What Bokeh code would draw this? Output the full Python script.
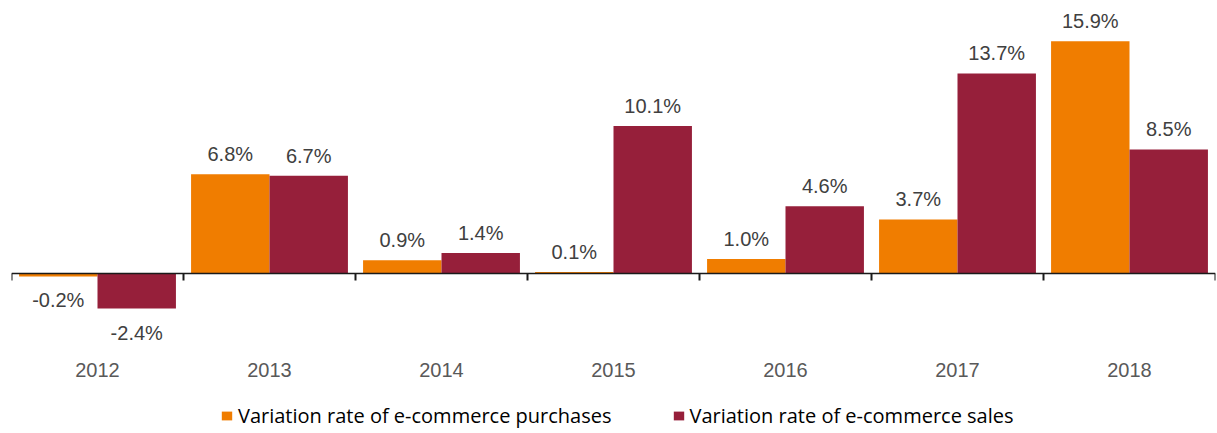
import numpy as np
from bokeh.plotting import figure
from bokeh.models import (ColumnDataSource, FixedTicker, LinearAxis, Legend,
                          LegendItem, Range1d)
from bokeh.embed import file_html
from bokeh.resources import INLINE
from bokeh.core.properties import value

years = ["2012", "2013", "2014", "2015", "2016", "2017", "2018"]
purchases = [-0.2, 6.8, 0.9, 0.1, 1.0, 3.7, 15.9]
sales = [-2.4, 6.7, 1.4, 10.1, 4.6, 13.7, 8.5]
series_names = ["Variation rate of e-commerce purchases",
                "Variation rate of e-commerce sales"]
colors = ["#F07D00", "#961F3A"]

FONT = "Liberation Sans"
LEGEND_FONT = "Open Sans"
n = len(years)
centers = np.arange(n) + 0.5
bounds = np.arange(n + 1)
bar_w = 0.456
offsets = [-bar_w / 2, bar_w / 2]

p = figure(width=1216, height=433, x_range=Range1d(0, n),
           y_range=Range1d(-10.96, 18.15), x_axis_type=None, y_axis_type=None,
           output_backend="svg", toolbar_location=None,
           min_border_left=11, min_border_right=1, min_border_top=8,
           min_border_bottom=0)
p.outline_line_color = None

renderers = []
for vals, off, col in zip([purchases, sales], offsets, colors):
    xs = centers + off
    src = ColumnDataSource(dict(x=xs, top=vals))
    r = p.vbar(x="x", top="top", bottom=0, width=bar_w, source=src,
               fill_color=col, line_color=None)
    renderers.append(r)
    labels = ["%.1f%%" % v for v in vals]
    pos = [i for i, v in enumerate(vals) if v >= 0]
    neg = [i for i, v in enumerate(vals) if v < 0]
    sp = ColumnDataSource(dict(x=[xs[i] for i in pos], y=[vals[i] for i in pos],
                               t=[labels[i] for i in pos]))
    sn = ColumnDataSource(dict(x=[xs[i] for i in neg], y=[vals[i] for i in neg],
                               t=[labels[i] for i in neg]))
    p.text(x="x", y="y", text="t", source=sp, text_align="center",
           text_baseline="alphabetic", y_offset=-20,
           text_font=value(FONT), text_font_size="20px", text_color="#404040")
    p.text(x="x", y="y", text="t", source=sn, text_align="center",
           text_baseline="top", y_offset=13,
           text_font=value(FONT), text_font_size="20px", text_color="#404040")

# category labels (drawn below the zero line)
xaxis = LinearAxis(fixed_location=0, ticker=FixedTicker(ticks=list(centers)),
                   major_label_overrides={float(c): y for c, y in zip(centers, years)},
                   axis_line_color=None, major_tick_line_color=None,
                   minor_tick_line_color=None, major_tick_in=0, major_tick_out=0,
                   major_label_standoff=90,
                   major_label_text_font=FONT, major_label_text_font_size="20px",
                   major_label_text_color="#595959")
p.add_layout(xaxis, "below")

# zero line with boundary ticks
zaxis = LinearAxis(fixed_location=0, ticker=FixedTicker(ticks=list(bounds)),
                   major_label_overrides={int(b): "" for b in bounds},
                   major_label_text_font_size="0px",
                   axis_line_color="#1a1a1a", axis_line_width=1.3,
                   major_tick_line_color="#1a1a1a", major_tick_line_width=2,
                   minor_tick_line_color=None, major_tick_in=0, major_tick_out=7)
p.add_layout(zaxis, "below")

legend = Legend(items=[LegendItem(label=nm, renderers=[r])
                       for nm, r in zip(series_names, renderers)],
                location=(209, 4), orientation="horizontal",
                glyph_width=13, glyph_height=11, label_standoff=5, spacing=60,
                padding=0, margin=0, border_line_color=None,
                background_fill_color=None, label_text_font=LEGEND_FONT,
                label_text_font_size="20px", label_text_color="#000000")
p.add_layout(legend)

open("out.html", "w").write(file_html(p, INLINE))
